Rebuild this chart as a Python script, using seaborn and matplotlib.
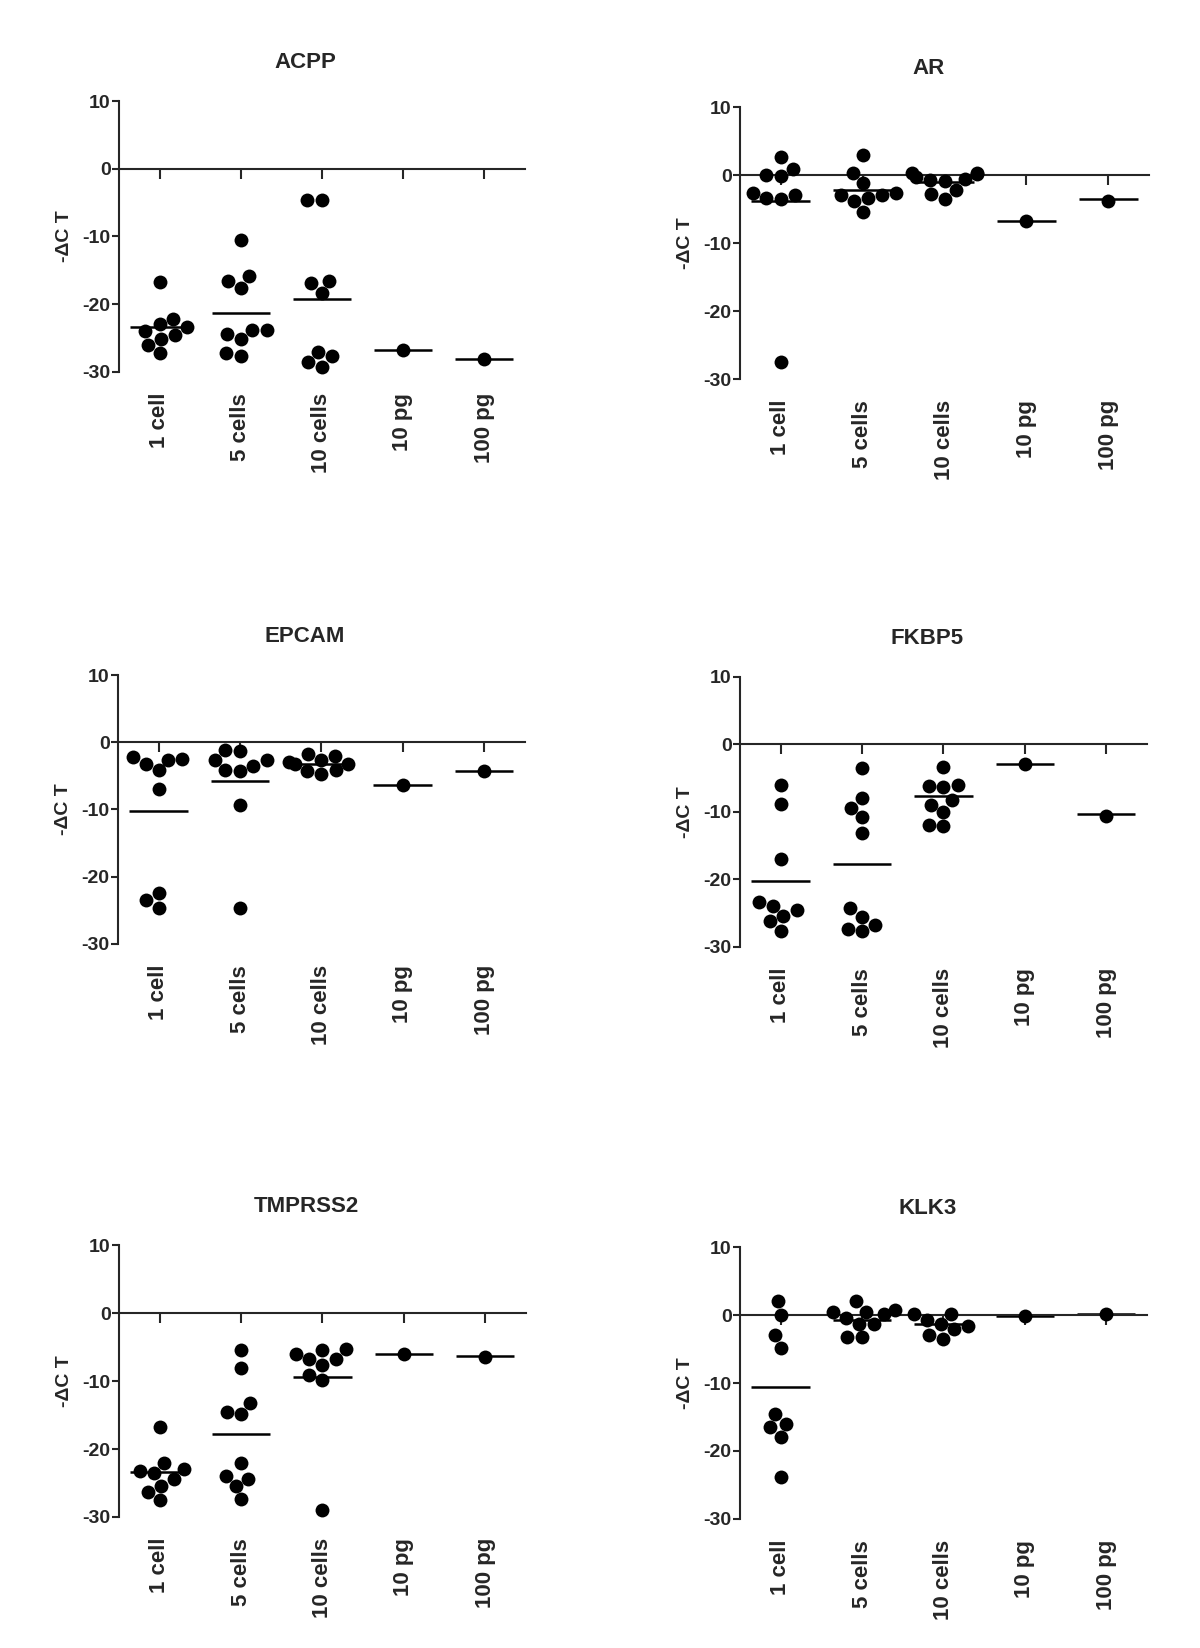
import matplotlib
matplotlib.use("Agg")
import matplotlib.pyplot as plt
import numpy as np
import pandas as pd
import seaborn as sns

GROUPS = ["1 cell", "5 cells", "10 cells", "10 pg", "100 pg"]

# -delta CT per sample, one list per group
ACPP = [
    [-16.7, -22.9, -22.2, -25.1, -24.5, -23.3, -26.0, -27.2, -24.0],
    [-10.5, -15.9, -16.6, -17.6, -23.8, -25.1, -24.4, -23.8, -27.6, -27.2],
    [-4.6, -4.6, -16.9, -16.5, -18.3, -27.7, -29.2, -27.0, -28.5],
    [-26.8],
    [-28.1],
]
ACPP_MEAN = [-23.4, -21.3, -19.2, -26.8, -28.1]

AR = [
    [0.9, 2.7, -0.2, 0.0, -2.6, -3.4, -3.0, -3.5, -27.5],
    [2.9, 0.3, -1.2, -3.3, -2.9, -2.9, -2.7, -3.8, -5.4],
    [0.1, 0.3, 0.3, -0.3, -0.8, -0.6, -2.2, -3.5, -2.8, -0.7],
    [-6.7],
    [-3.8],
]
AR_MEAN = [-3.8, -2.2, -1.0, -6.7, -3.5]

EPCAM = [
    [-2.6, -2.2, -2.5, -3.2, -4.2, -6.9, -22.4, -24.6, -23.5],
    [-1.2, -1.3, -2.7, -2.7, -3.5, -4.2, -4.3, -9.3, -24.6],
    [-2.0, -1.8, -4.2, -4.3, -4.7, -3.0, -3.2, -3.2, -2.6],
    [-6.3],
    [-4.3],
]
EPCAM_MEAN = [-10.2, -5.7, -3.2, -6.4, -4.3]

FKBP5 = [
    [-6.0, -8.8, -17.0, -24.0, -25.4, -24.6, -23.3, -26.2, -27.6],
    [-3.5, -7.9, -9.4, -10.8, -13.1, -24.3, -25.5, -26.8, -27.7, -27.3],
    [-3.4, -6.0, -6.2, -6.3, -8.3, -9.0, -10.0, -12.1, -11.9],
    [-2.9],
    [-10.6],
]
FKBP5_MEAN = [-20.2, -17.7, -7.7, -2.9, -10.3]

TMPRSS2 = [
    [-16.7, -23.2, -22.1, -25.4, -24.4, -23.6, -26.3, -27.5, -23.0],
    [-5.4, -8.1, -14.5, -14.8, -13.2, -22.0, -23.9, -24.4, -25.4, -27.3],
    [-5.4, -5.3, -6.0, -6.8, -6.8, -7.6, -9.1, -9.8, -29.0],
    [-6.0],
    [-6.4],
]
TMPRSS2_MEAN = [-23.4, -17.8, -9.4, -6.0, -6.3]

KLK3 = [
    [2.0, 0.0, -3.0, -4.9, -14.6, -16.5, -16.0, -17.9, -23.8],
    [2.0, 0.5, 0.7, 0.5, -1.3, -0.5, 0.1, -1.3, -3.3, -3.3],
    [0.2, 0.2, -2.1, -1.6, -1.3, -3.5, -2.9, -0.8],
    [-0.1],
    [0.1],
]
KLK3_MEAN = [-10.6, -0.7, -1.3, -0.1, 0.1]

sns.set_style("ticks")
plt.rcParams["font.family"] = ["Liberation Sans", "DejaVu Sans"]
plt.rcParams["font.weight"] = "bold"
plt.rcParams["axes.titleweight"] = "bold"
plt.rcParams["axes.labelweight"] = "bold"
plt.rcParams["axes.linewidth"] = 1.5
plt.rcParams["axes.unicode_minus"] = False


def draw_panel(ax, title, values, means):
    df = pd.DataFrame({
        "group": [g for g, v in zip(GROUPS, values) for _ in v],
        "dct": [x for v in values for x in v],
    })
    sns.swarmplot(data=df, x="group", y="dct", order=GROUPS, color="black",
                  size=10, linewidth=0, ax=ax, clip_on=False, warn_thresh=1)
    pos = np.arange(len(GROUPS))
    ax.hlines(means, pos - 0.36, pos + 0.36, color="black", lw=1.8)

    ax.set_xlim(-0.5, 4.5)
    ax.set_ylim(-30, 10)
    ax.set_yticks([-30, -20, -10, 0, 10])
    ax.set_xlabel("")
    ax.set_ylabel("-\u0394C T", fontsize=14, labelpad=7)
    ax.set_title(title, fontsize=16, pad=24, x=0.46)

    ax.spines["top"].set_visible(False)
    ax.spines["right"].set_visible(False)
    ax.spines["bottom"].set_position(("data", 0))
    ax.spines["left"].set_bounds(-30, 10)
    ax.tick_params(axis="x", direction="out", length=7, width=1.5,
                   labelbottom=False)
    ax.tick_params(axis="y", direction="out", length=5, width=1.5, pad=1,
                   labelsize=14)

    # category labels sit under the plot, the ticks sit on the zero line
    sec = ax.secondary_xaxis(0)
    sec.set_xticks(pos, labels=GROUPS)
    sec.tick_params(length=0, pad=15, labelrotation=90, labelsize=16)
    sec.spines["bottom"].set_visible(False)


fig = plt.figure(figsize=(12, 16.48), dpi=100)

panels = [
    ("ACPP", ACPP, ACPP_MEAN, [0.0992, 0.7743, 0.338, 0.1644]),
    ("AR", AR, AR_MEAN, [0.6167, 0.770, 0.341, 0.165]),
    ("EPCAM", EPCAM, EPCAM_MEAN, [0.0983, 0.4272, 0.339, 0.1632]),
    ("FKBP5", FKBP5, FKBP5_MEAN, [0.6167, 0.4254, 0.339, 0.1638]),
    ("TMPRSS2", TMPRSS2, TMPRSS2_MEAN, [0.0992, 0.0795, 0.339, 0.165]),
    ("KLK3", KLK3, KLK3_MEAN, [0.6167, 0.0783, 0.339, 0.165]),
]

for title, values, means, rect in panels:
    ax = fig.add_axes(rect)
    draw_panel(ax, title, values, means)

fig.savefig("out.png", dpi=100)
plt.close(fig)
